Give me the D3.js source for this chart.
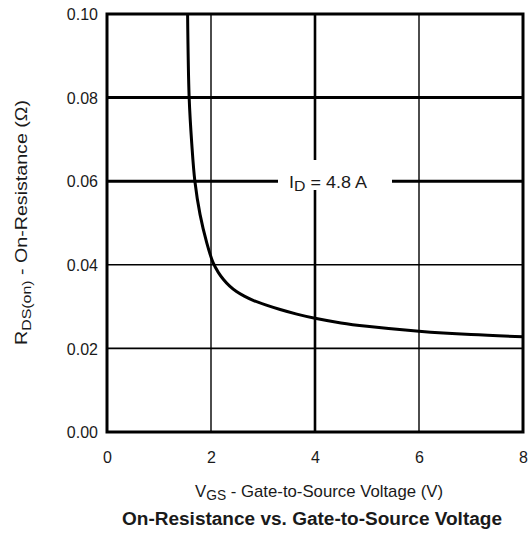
<!DOCTYPE html>
<html><head><meta charset="utf-8">
<script src="https://cdn.jsdelivr.net/npm/d3@7"></script>
<style>
html,body{margin:0;padding:0;background:#fff;}
svg{display:block;}
text{font-family:"Liberation Sans",Arial,sans-serif;fill:#1a1a1a;}
</style></head>
<body><svg id="c" width="532" height="536"></svg>
<script>
// Data
const vgs = [1.55, 1.58, 1.63, 1.69, 1.79, 1.92, 2.04, 2.14, 2.24, 2.36, 2.49, 2.64, 2.81, 3.05, 3.33, 3.65, 4.0, 4.5, 5.0, 6.0, 7.0, 8.0];
const rds = [0.100, 0.080, 0.069, 0.060, 0.052, 0.0452, 0.0405, 0.0382, 0.0365, 0.0349, 0.0336, 0.0325, 0.0315, 0.0304, 0.0293, 0.0282, 0.0272, 0.0261, 0.0253, 0.0241, 0.0233, 0.0228];
const xTicks = [0, 2, 4, 6, 8];
const yTicks = [0.00, 0.02, 0.04, 0.06, 0.08, 0.10];
const thickX = [4];
const thickY = [0.06, 0.08];

const svg = d3.select("#c");
const L = 107, R = 523, T = 14, B = 432;
const x = d3.scaleLinear().domain([0, 8]).range([L, R]);
const y = d3.scaleLinear().domain([0, 0.10]).range([B, T]);

// grid
const g = svg.append("g");
xTicks.filter(v => v > 0 && v < 8).forEach(v => {
  g.append("line").attr("x1", x(v)).attr("x2", x(v)).attr("y1", T).attr("y2", B)
    .attr("stroke", "#000").attr("stroke-width", thickX.includes(v) ? 2.6 : 1.4);
});
yTicks.filter(v => v > 0 && v < 0.1).forEach(v => {
  g.append("line").attr("x1", L).attr("x2", R).attr("y1", y(v)).attr("y2", y(v))
    .attr("stroke", "#000").attr("stroke-width", thickY.includes(v) ? 3 : 1.6);
});

// label box (white background interrupting grid)
svg.append("rect").attr("x", 278).attr("y", 160).attr("width", 114).attr("height", 30).attr("fill", "#fff");
const idt = svg.append("text").attr("x", 289).attr("y", 188).attr("font-size", 17)
  .attr("textLength", 78).attr("lengthAdjust", "spacingAndGlyphs");
idt.append("tspan").text("I");
idt.append("tspan").attr("font-size", 15).attr("dy", 3).text("D");
idt.append("tspan").attr("dy", -3).text(" =  4.8 A");

// border
svg.append("rect").attr("x", L).attr("y", T).attr("width", R - L).attr("height", B - T)
  .attr("fill", "none").attr("stroke", "#000").attr("stroke-width", 3);

// curve
const pts = vgs.map((v, i) => [v, rds[i]]);
svg.append("path").datum(pts)
  .attr("d", d3.line().x(d => x(d[0])).y(d => y(d[1])).curve(d3.curveCatmullRom.alpha(0.5)))
  .attr("fill", "none").attr("stroke", "#000").attr("stroke-width", 3);

// axes labels (ticks)
const xa = d3.axisBottom(x).tickValues(xTicks).tickFormat(d3.format("d")).tickSize(0).tickPadding(0);
const xg = svg.append("g").attr("transform", `translate(0,${B})`).call(xa);
xg.select(".domain").remove();
xg.selectAll("text").attr("y", 31).attr("dy", 0).attr("font-size", 16)
  .style("font-family", '"Liberation Sans",Arial,sans-serif').attr("fill", "#1a1a1a");

const ya = d3.axisLeft(y).tickValues(yTicks).tickFormat(d3.format(".2f")).tickSize(0).tickPadding(0);
const yg = svg.append("g").attr("transform", `translate(98,0)`).call(ya);
yg.select(".domain").remove();
yg.selectAll("text").attr("x", 0).attr("dy", "0.36em").attr("font-size", 16)
  .style("font-family", '"Liberation Sans",Arial,sans-serif').attr("fill", "#1a1a1a");

// x axis title
const xt = svg.append("text").attr("x", 195).attr("y", 497).attr("font-size", 17)
  .attr("textLength", 248).attr("lengthAdjust", "spacingAndGlyphs");
xt.append("tspan").text("V");
xt.append("tspan").attr("font-size", 14).attr("dy", 3).text("GS");
xt.append("tspan").attr("dy", -3).text("  -  Gate-to-Source Voltage (V)");

// chart title
svg.append("text").attr("x", 312).attr("y", 525).attr("text-anchor", "middle")
  .attr("font-size", 18).attr("font-weight", "bold").attr("textLength", 380)
  .attr("lengthAdjust", "spacingAndGlyphs").text("On-Resistance vs. Gate-to-Source Voltage");

// y axis title
const yt = svg.append("text").attr("transform", "translate(27,345) rotate(-90)").attr("font-size", 16)
  .attr("textLength", 245).attr("lengthAdjust", "spacingAndGlyphs");
yt.append("tspan").text("R");
yt.append("tspan").attr("font-size", 13).attr("dy", 4).text("DS(on)");
yt.append("tspan").attr("dy", -4).text("  -  On-Resistance (Ω)");
</script></body></html>
